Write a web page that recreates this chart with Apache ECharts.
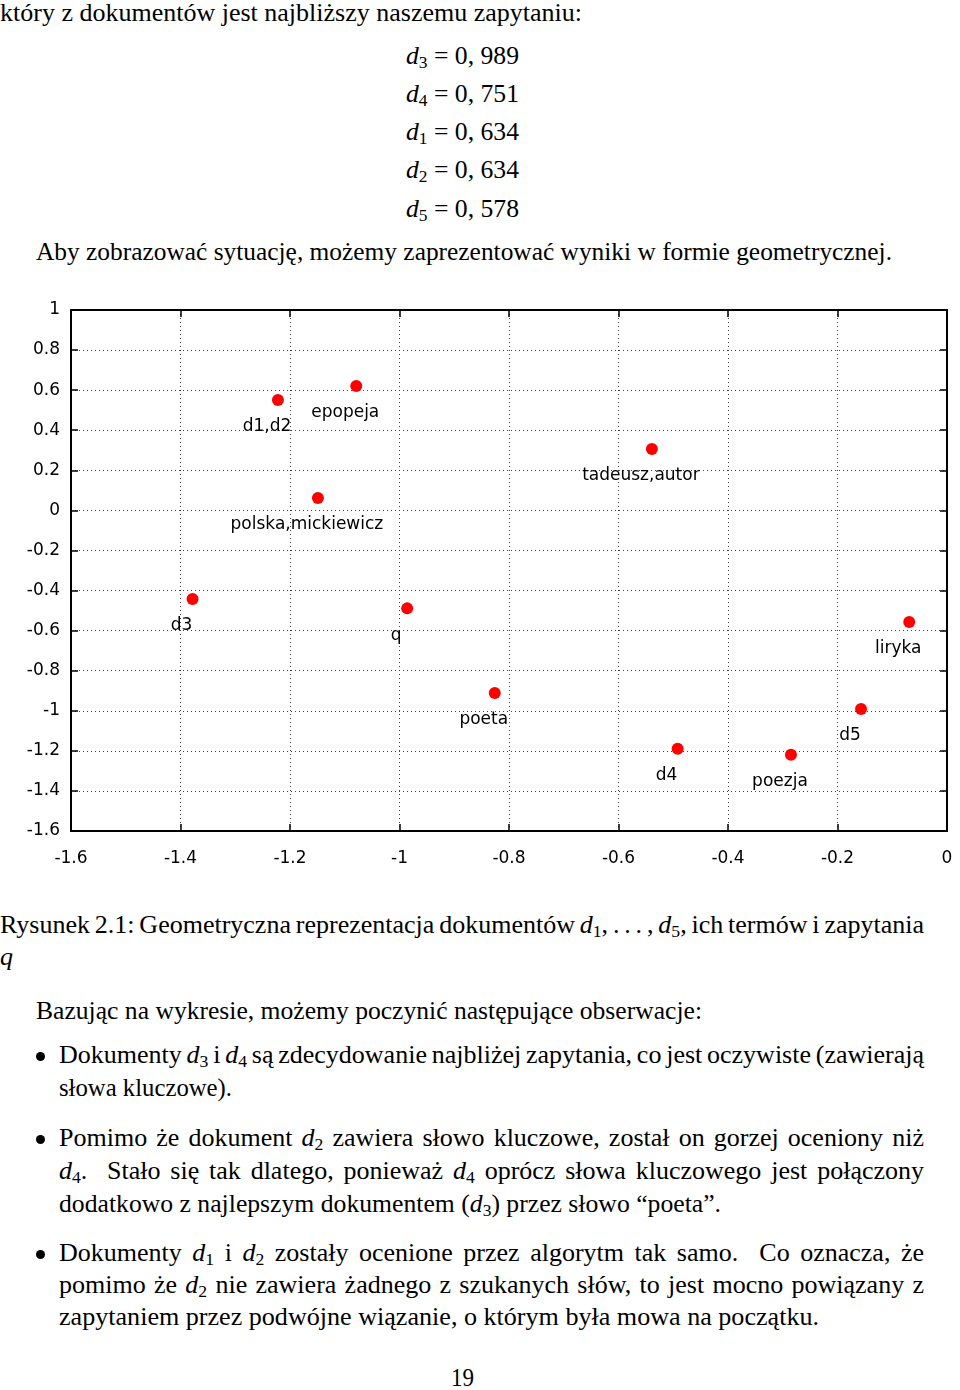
<!DOCTYPE html>
<html>
<head>
<meta charset="utf-8">
<script src="https://cdn.jsdelivr.net/npm/echarts@6/dist/echarts.min.js"></script>
<style>
  html, body { margin: 0; padding: 0; background: #fff; }
  body {
    width: 960px; height: 1390px; position: relative; overflow: hidden;
    font-family: "Liberation Serif", "Times New Roman", serif; font-size: 26px; color: #000;
  }
  .ln { position: absolute; white-space: nowrap; line-height: 1; transform-origin: 0 0; }
  .ln i { font-style: italic; }
  .sb { font-size: 0.68em; position: relative; top: 0.24em; font-style: normal; }
  .bul { position: absolute; width: 9px; height: 9px; border-radius: 50%; background: #000; }
  #chart { position: absolute; left: 0; top: 290px; width: 960px; height: 590px; }
</style>
</head>
<body>
<div id="page"></div>
<div id="chart"></div>
<script>
// points of the plot: label, x, y
const pointLabels = ['d1,d2', 'epopeja', 'polska,mickiewicz', 'tadeusz,autor', 'd3', 'q',
                     'poeta', 'd4', 'poezja', 'd5', 'liryka'];
const pointX = [-1.222, -1.079, -1.149, -0.539, -1.378, -0.986, -0.826, -0.492, -0.285, -0.157, -0.069];
const pointY = [0.551, 0.621, 0.062, 0.306, -0.442, -0.489, -0.911, -1.189, -1.219, -0.991, -0.557];

// axes
const xRange = [-1.6, 0];
const yRange = [-1.6, 1];
const tickStep = 0.2;

const d = n => `<i>d</i><span class="sb">${n}</span>`;

// text lines of the page: [html, left, baseline, width, justify]
const lines = [
  ['który z dokumentów jest najbliższy naszemu zapytaniu:', 0, 21, 582],
  [`${d(3)} = 0, 989`, 406, 64, 113],
  [`${d(4)} = 0, 751`, 406, 102, 113],
  [`${d(1)} = 0, 634`, 406, 140, 113],
  [`${d(2)} = 0, 634`, 406, 178, 113],
  [`${d(5)} = 0, 578`, 406, 217, 113],
  ['Aby zobrazować sytuację, możemy zaprezentować wyniki w formie geometrycznej.', 36, 260, 856],
  [`Rysunek 2.1: Geometryczna reprezentacja dokumentów ${d(1)}, . . . , ${d(5)}, ich termów i zapytania`, 0, 933, 924, true],
  ['<i>q</i>', 0, 965, 0],
  ['Bazując na wykresie, możemy poczynić następujące obserwacje:', 36, 1019, 666],
  [`Dokumenty ${d(3)} i ${d(4)} są zdecydowanie najbliżej zapytania, co jest oczywiste (zawierają`, 59, 1063, 865, true],
  ['słowa kluczowe).', 59, 1096, 173],
  [`Pomimo że dokument ${d(2)} zawiera słowo kluczowe, został on gorzej oceniony niż`, 59, 1146, 865, true],
  [`${d(4)}. &nbsp;Stało się tak dlatego, ponieważ ${d(4)} oprócz słowa kluczowego jest połączony`, 59, 1179, 865, true],
  [`dodatkowo z najlepszym dokumentem (${d(3)}) przez słowo “poeta”.`, 59, 1212, 662],
  [`Dokumenty ${d(1)} i ${d(2)} zostały ocenione przez algorytm tak samo. &nbsp;Co oznacza, że`, 59, 1261, 865, true],
  [`pomimo że ${d(2)} nie zawiera żadnego z szukanych słów, to jest mocno powiązany z`, 59, 1293, 865, true],
  ['zapytaniem przez podwójne wiązanie, o którym była mowa na początku.', 59, 1325, 760],
  ['19', 451, 1386, 23],
];
const bulletBaselines = [1063, 1146, 1261];

const page = document.getElementById('page');
lines.forEach(([html, left, base, width, justify]) => {
  const el = document.createElement('div');
  el.className = 'ln';
  el.innerHTML = html + '<span class="bl" style="display:inline-block;width:0;height:0;vertical-align:baseline"></span>';
  el.style.left = left + 'px';
  el.style.top = '0px';
  page.appendChild(el);
  const mark = el.querySelector('.bl');
  const off = mark.getBoundingClientRect().top - el.getBoundingClientRect().top;
  el.style.top = (base - off) + 'px';
  if (!width) return;
  const natural = el.getBoundingClientRect().width;
  if (justify) {
    const spaces = (el.textContent.match(/[ \u00a0]/g) || []).length;
    el.style.wordSpacing = ((width - natural) / spaces) + 'px';
  } else {
    el.style.transform = `scaleX(${width / natural})`;
  }
});
bulletBaselines.forEach(b => {
  const el = document.createElement('div');
  el.className = 'bul';
  el.style.left = '36px';
  el.style.top = (b - 11.5) + 'px';
  page.appendChild(el);
});

const axisFont = { color: '#000', fontFamily: 'DejaVu Sans', fontSize: 17 };
const frame = { show: true, onZero: false, lineStyle: { color: '#000', width: 2 } };
const ticks = { show: true, inside: true, length: 7, lineStyle: { color: '#000', width: 1.5 } };
const dots = { show: true, lineStyle: { color: '#444', width: 1, type: [1, 3] } };

const chart = echarts.init(document.getElementById('chart'));
chart.setOption({
  animation: false,
  grid: { left: 71, top: 20, width: 876, height: 521 },
  xAxis: [
    {
      type: 'value', position: 'bottom', min: xRange[0], max: xRange[1], interval: tickStep,
      axisLine: frame, axisTick: ticks, splitLine: dots,
      axisLabel: { ...axisFont, margin: 19 },
    },
    {
      type: 'value', position: 'top', min: xRange[0], max: xRange[1], interval: tickStep,
      axisLine: frame, axisTick: ticks, splitLine: { show: false }, axisLabel: { show: false },
    },
  ],
  yAxis: [
    {
      type: 'value', position: 'left', min: yRange[0], max: yRange[1], interval: tickStep,
      axisLine: frame, axisTick: ticks, splitLine: dots,
      axisLabel: { ...axisFont, margin: 11, padding: [7, 0, 0, 0] },
    },
    {
      type: 'value', position: 'right', min: yRange[0], max: yRange[1], interval: tickStep,
      axisLine: frame, axisTick: ticks, splitLine: { show: false }, axisLabel: { show: false },
    },
  ],
  series: [{
    type: 'scatter',
    symbol: 'circle',
    symbolSize: 12,
    itemStyle: { color: '#f00', opacity: 1 },
    data: pointX.map((x, i) => ({ value: [x, pointY[i]], name: pointLabels[i] })),
    label: {
      show: true, formatter: '{b}', position: 'inside',
      color: '#000', fontFamily: 'DejaVu Sans', fontSize: 17,
    },
    labelLayout: { dx: -11, dy: 27, hideOverlap: false },
  }],
});
</script>
</body>
</html>
